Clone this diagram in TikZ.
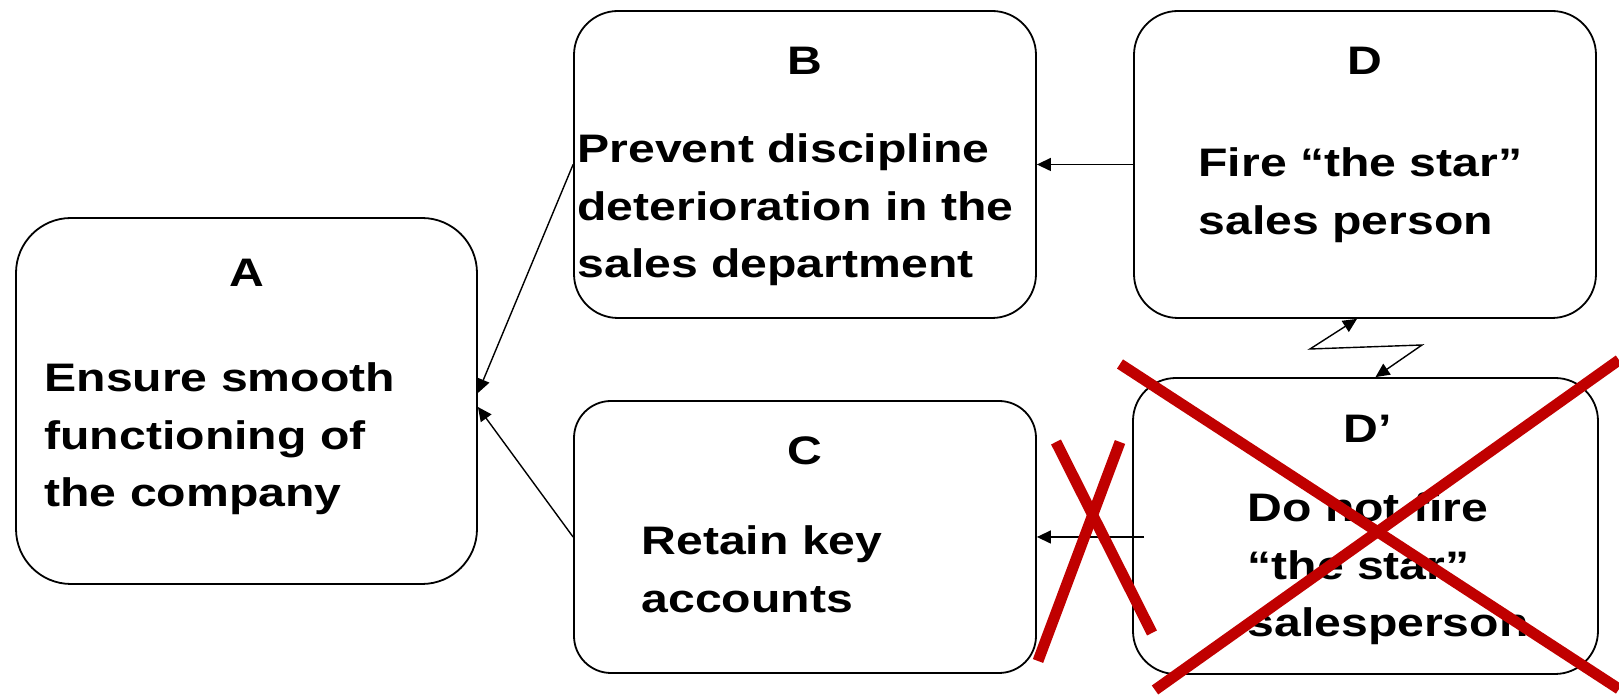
\documentclass[tikz,border=0pt]{standalone}
\usepackage{fontspec}
\setmainfont{Liberation Sans}[FakeStretch=1.21]
\usetikzlibrary{arrows.meta, positioning, calc}
\definecolor{cross}{HTML}{C00000}

\begin{document}
\begin{tikzpicture}[x=0.5pt, y=0.5pt, font=\fontsize{19.9}{28.75}\selectfont\bfseries,
    goal/.style={draw, line width=0.9pt, inner sep=0pt},
    tag/.style={anchor=base, inner sep=0pt},
    body/.style={anchor=base west, align=left, inner sep=0pt},
    link/.style={-{Triangle[length=7pt, width=6.5pt]}, line width=0.7pt},
    clash/.style={{Triangle[length=7pt, width=6.5pt]}-{Triangle[length=7pt, width=6.5pt]}, line width=0.7pt},
    strike/.style={cross, line width=5.5pt}]
      \useasboundingbox (0,0) rectangle (1619,700);
      \node[goal, rounded corners=27.5pt, minimum width=230.5pt, minimum height=183pt] (A) at (246.5,299) {};
      \node[goal, rounded corners=22pt, minimum width=231pt, minimum height=153.5pt] (B) at (805,535.5) {};
      \node[goal, rounded corners=18.5pt, minimum width=231pt, minimum height=136pt] (C) at (805,163) {};
      \node[goal, rounded corners=22pt, minimum width=231pt, minimum height=153.5pt] (D) at (1365,535.5) {};
      \node[goal, rounded corners=21.5pt, minimum width=232.5pt, minimum height=148pt] (Dp) at (1365.5,174) {};
      \node[tag] (Atag) at ($(A.north)+(0,-69)$) {A};
      \node[tag] (Btag) at ($(B.north)+(0,-64)$) {B};
      \node[tag] (Ctag) at ($(C.north)+(0,-64)$) {C};
      \node[tag] (Dtag) at ($(D.north)+(0,-64)$) {D};
      \node[tag] (Dptag) at ($(Dp.north)+(2,-65)$) {D’};
      \node[body] (Atxt) at ($(A.west)+(29,-106)$) {Ensure smooth\\functioning of\\the company};
      \node[body] (Btxt) at ($(B.west)+(4,-113.5)$) {Prevent discipline\\deterioration in the\\sales department};
      \node[body] (Ctxt) at ($(C.west)+(68,-75.5)$) {Retain key\\accounts};
      \node[body] (Dtxt) at ($(D.west)+(65,-70)$) {Fire “the star”\\sales person};
      \node[body] (Dptxt) at ($(Dp.west)+(115,-111)$) {Do not fire\\“the star”\\salesperson};
      \coordinate (Dpout) at ($(Dp.west)+(12,-11)$);
      \coordinate (zz1) at (1310,351);
      \coordinate (zz2) at (1422,355);
      \draw[link] (B.west) -- ($(A.east)+(0,8)$);
      \draw[link] (C.west) -- ($(A.east)+(0,-6)$);
      \draw[link] (D.west) -- (B.east);
      \draw[link] (Dpout) -- (C.east);
      \draw[clash] ($(D.south)+(-8,0)$) -- (zz1) -- (zz2) -- ($(Dp.north)+(10,0)$);
      \draw[strike] (1120,336) -- (1619,11);
      \draw[strike] (1155,10) -- (1619,340);
      \draw[strike] (1056,258) -- (1152,67);
      \draw[strike] (1120,258) -- (1038,39);
    \end{tikzpicture}
\end{document}
